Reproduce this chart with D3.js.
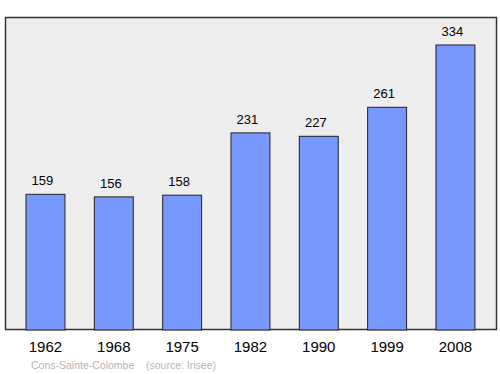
<!DOCTYPE html>
<html>
<head>
<meta charset="utf-8">
<script src="https://cdn.jsdelivr.net/npm/d3@7"></script>
<style>
  body { margin: 0; background: #fff; }
  text { font-family: "Liberation Sans", Arial, sans-serif; }
</style>
</head>
<body>
<div id="container"></div>
<script>
let years = ["1962", "1968", "1975", "1982", "1990", "1999", "2008"];
let population = [159, 156, 158, 231, 227, 261, 334];
let town = "Cons-Sainte-Colombe";
let source = "(source: Insee)";

let w = 500;
let h = 374;

let viz = d3.select("#container")
  .append("svg")
  .attr("width", w)
  .attr("height", h)
;

// grey panel
viz.append("rect")
  .attr("x", 5.5)
  .attr("y", 17.5)
  .attr("width", 491)
  .attr("height", 312)
  .attr("fill", "#eeeeee")
  .attr("stroke", "#333")
  .attr("stroke-width", 1.5)
;

let xScale = d3.scaleBand()
  .domain(years)
  .range([11.3, 489.6])
  .paddingInner(0.43)
  .paddingOuter(0.215)
;

let yScale = d3.scaleLinear()
  .domain([0, 334])
  .range([330, 45])
;

let bars = viz.selectAll(".bar").data(population).enter()
  .append("rect")
  .attr("class", "bar")
  .attr("x", (d, i) => xScale(years[i]))
  .attr("y", d => yScale(d))
  .attr("width", xScale.bandwidth())
  .attr("height", d => yScale(0) - yScale(d))
  .attr("fill", "#7799ff")
  .attr("stroke", "#222")
  .attr("stroke-width", 1)
;

// value labels sit a little left of the bar centre
viz.selectAll(".val").data(population).enter()
  .append("text")
  .attr("class", "val")
  .attr("x", (d, i) => xScale(years[i]) + xScale.bandwidth() / 2 - 3)
  .attr("y", d => yScale(d) - 9)
  .attr("text-anchor", "middle")
  .attr("font-size", 13)
  .attr("fill", "#000")
  .text(d => d)
;

// year axis, no line
let xAxis = d3.axisBottom(xScale).tickSize(0).tickPadding(0);
let axisG = viz.append("g")
  .attr("transform", "translate(0, 341)")
  .call(xAxis)
;
axisG.select(".domain").remove();
axisG.selectAll("text")
  .attr("dy", "0.71em")
  .attr("font-size", 15)
  .attr("font-family", "Liberation Sans, Arial, sans-serif")
  .attr("fill", "#000")
;

viz.append("text")
  .attr("x", 31)
  .attr("y", 369)
  .attr("font-size", 10.5)
  .attr("fill", "#b4b4b4")
  .text(town)
;
viz.append("text")
  .attr("x", 146)
  .attr("y", 369)
  .attr("font-size", 10.5)
  .attr("fill", "#b4b4b4")
  .text(source)
;
</script>
</body>
</html>
